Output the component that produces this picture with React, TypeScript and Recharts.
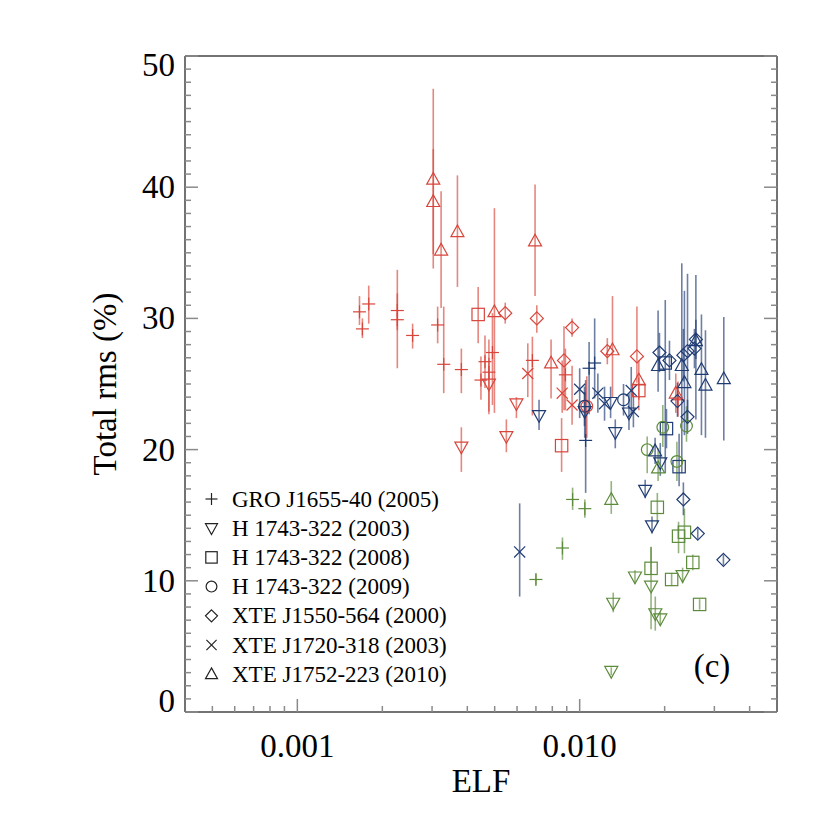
import { ScatterChart, Scatter, XAxis, YAxis, ErrorBar } from "recharts";

type State = "hard" | "inter" | "soft";
// [ELF, total rms %, error below, error above, state]
type Pt = [number, number, number, number, State];

const groJ1655: Pt[] = [
  [0.00166, 30.5, 1.0, 1.2, "hard"],
  [0.0017, 29.2, 0.7, 0.8, "hard"],
  [0.00179, 31.1, 1.5, 1.4, "hard"],
  [0.00226, 30.6, 4.4, 3.1, "hard"],
  [0.00226, 29.9, 0.8, 2.0, "hard"],
  [0.00256, 28.7, 1.0, 0.9, "hard"],
  [0.00314, 29.5, 1.4, 1.4, "hard"],
  [0.0033, 26.5, 2.2, 4.4, "hard"],
  [0.00381, 26.1, 1.8, 1.6, "hard"],
  [0.00447, 25.3, 1.5, 1.8, "hard"],
  [0.00462, 26.7, 2.0, 2.0, "hard"],
  [0.00477, 25.9, 3.0, 2.5, "hard"],
  [0.00491, 27.4, 4.0, 3.0, "hard"],
  [0.0068, 26.8, 4.2, 1.8, "hard"],
  [0.0089, 25.7, 2.7, 2.0, "hard"],
  [0.0223, 23.8, 1.3, 1.4, "hard"],
  [0.0105, 20.7, 4.0, 4.6, "inter"],
  [0.0113, 26.6, 2.7, 3.4, "inter"],
  [0.0108, 26.2, 3.5, 2.0, "inter"],
  [0.00944, 16.2, 0.8, 0.9, "soft"],
  [0.01043, 15.5, 0.7, 0.7, "soft"],
  [0.00869, 12.5, 0.9, 0.8, "soft"],
  [0.007, 10.1, 0.4, 0.4, "soft"],
];

const h1743y2003: Pt[] = [
  [0.00381, 20.2, 1.9, 1.5, "hard"],
  [0.0055, 21.0, 1.2, 1.3, "hard"],
  [0.00597, 23.5, 1.1, 0.5, "hard"],
  [0.00477, 25.0, 2.3, 2.0, "hard"],
  [0.00718, 22.6, 1.1, 1.2, "inter"],
  [0.01042, 22.9, 2.0, 1.5, "inter"],
  [0.01287, 23.6, 1.2, 1.2, "inter"],
  [0.01337, 21.3, 1.2, 1.0, "inter"],
  [0.01495, 22.8, 1.3, 1.5, "inter"],
  [0.0193, 19.0, 1.0, 1.5, "inter"],
  [0.01706, 16.9, 0.6, 0.8, "inter"],
  [0.01804, 14.2, 0.6, 0.7, "inter"],
  [0.0157, 10.3, 0.5, 0.5, "soft"],
  [0.0179, 9.6, 3.3, 3.0, "soft"],
  [0.02315, 10.4, 0.6, 0.6, "soft"],
  [0.01315, 8.3, 0.7, 0.8, "soft"],
  [0.01853, 7.5, 1.3, 1.3, "soft"],
  [0.0193, 7.1, 0.5, 0.5, "soft"],
  [0.01294, 3.1, 0.3, 0.3, "soft"],
];

const h1743y2008: Pt[] = [
  [0.00437, 30.3, 2.2, 2.1, "hard"],
  [0.00863, 20.3, 2.0, 2.1, "hard"],
  [0.0162, 24.5, 1.5, 1.0, "hard"],
  [0.0201, 26.6, 8.4, 4.8, "inter"],
  [0.0203, 21.6, 1.5, 1.5, "inter"],
  [0.0225, 18.7, 1.5, 2.5, "inter"],
  [0.01884, 15.6, 1.2, 1.1, "soft"],
  [0.0224, 13.4, 1.3, 1.1, "soft"],
  [0.0235, 13.7, 1.6, 1.8, "soft"],
  [0.0179, 10.95, 0.5, 1.6, "soft"],
  [0.02117, 10.1, 0.5, 0.5, "soft"],
  [0.02516, 11.4, 0.6, 0.6, "soft"],
  [0.0266, 8.2, 0.4, 0.4, "soft"],
];

const h1743y2009: Pt[] = [
  [0.0106, 23.3, 2.4, 2.3, "hard"],
  [0.0104, 23.3, 1.5, 1.5, "inter"],
  [0.0143, 23.8, 1.2, 1.2, "inter"],
  [0.0197, 21.7, 1.5, 1.7, "soft"],
  [0.0239, 21.8, 1.2, 1.5, "soft"],
  [0.01735, 20.0, 1.8, 1.0, "soft"],
  [0.0221, 19.1, 1.5, 1.5, "soft"],
];

const xteJ1550: Pt[] = [
  [0.00545, 30.4, 0.8, 0.8, "hard"],
  [0.00705, 30.0, 1.1, 1.0, "hard"],
  [0.0094, 29.3, 0.7, 0.7, "hard"],
  [0.0088, 26.8, 3.8, 2.6, "hard"],
  [0.01253, 27.5, 1.0, 1.0, "hard"],
  [0.01595, 27.1, 2.0, 3.8, "hard"],
  [0.01917, 27.4, 1.5, 1.5, "inter"],
  [0.0208, 26.8, 1.5, 1.5, "inter"],
  [0.0233, 27.2, 2.0, 2.0, "inter"],
  [0.0241, 27.5, 5.5, 5.9, "inter"],
  [0.0258, 28.4, 1.5, 1.5, "inter"],
  [0.0255, 27.7, 1.5, 1.5, "inter"],
  [0.0222, 23.7, 1.2, 1.4, "inter"],
  [0.0241, 22.5, 1.3, 1.3, "inter"],
  [0.0233, 16.2, 1.2, 1.3, "inter"],
  [0.0262, 13.6, 0.4, 0.4, "inter"],
  [0.0323, 11.6, 0.4, 0.4, "inter"],
];

const xteJ1720: Pt[] = [
  [0.00655, 25.8, 1.8, 2.3, "hard"],
  [0.00867, 24.3, 1.5, 2.5, "hard"],
  [0.0094, 23.4, 1.5, 3.0, "hard"],
  [0.01, 24.6, 2.2, 1.6, "inter"],
  [0.0116, 24.3, 1.5, 1.5, "inter"],
  [0.01225, 23.5, 1.3, 1.3, "inter"],
  [0.01523, 24.5, 1.8, 1.8, "inter"],
  [0.0155, 22.9, 1.2, 1.4, "inter"],
  [0.00613, 12.2, 3.4, 3.7, "inter"],
];

const xteJ1752: Pt[] = [
  [0.00303, 40.6, 6.8, 6.9, "hard"],
  [0.00303, 38.9, 4.0, 4.0, "hard"],
  [0.00323, 35.2, 4.4, 4.5, "hard"],
  [0.00369, 36.6, 4.2, 4.3, "hard"],
  [0.00499, 30.5, 7.7, 7.9, "hard"],
  [0.00695, 35.9, 4.2, 4.3, "hard"],
  [0.00792, 26.6, 2.7, 1.8, "hard"],
  [0.01307, 27.6, 3.6, 4.1, "hard"],
  [0.0162, 25.3, 1.5, 1.5, "hard"],
  [0.0219, 24.3, 1.5, 1.5, "hard"],
  [0.01896, 26.4, 2.0, 4.2, "inter"],
  [0.023, 26.4, 8.2, 7.8, "inter"],
  [0.0258, 28.3, 6.0, 5.0, "inter"],
  [0.027, 26.1, 5.0, 4.2, "inter"],
  [0.0279, 24.9, 4.0, 4.2, "inter"],
  [0.0324, 25.4, 4.7, 4.7, "inter"],
  [0.0235, 25.1, 4.0, 7.0, "inter"],
  [0.0185, 19.9, 1.0, 1.0, "inter"],
  [0.01294, 16.2, 1.1, 1.4, "soft"],
  [0.01896, 18.6, 1.0, 1.5, "soft"],
];

type Kind = "plus" | "tdown" | "square" | "circle" | "diamond" | "cross" | "tup";

const sources: { name: string; kind: Kind; points: Pt[] }[] = [
  { name: "GRO J1655-40 (2005)", kind: "plus", points: groJ1655 },
  { name: "H 1743-322 (2003)", kind: "tdown", points: h1743y2003 },
  { name: "H 1743-322 (2008)", kind: "square", points: h1743y2008 },
  { name: "H 1743-322 (2009)", kind: "circle", points: h1743y2009 },
  { name: "XTE J1550-564 (2000)", kind: "diamond", points: xteJ1550 },
  { name: "XTE J1720-318 (2003)", kind: "cross", points: xteJ1720 },
  { name: "XTE J1752-223 (2010)", kind: "tup", points: xteJ1752 },
];

const states: State[] = ["hard", "inter", "soft"];
const stateColor: Record<State, string> = {
  hard: "#d8453b",
  inter: "#1f3b73",
  soft: "#5c8b3a",
};

const xTicks = [
  0.0005, 0.0006, 0.0007, 0.0008, 0.0009, 0.001, 0.002, 0.003, 0.004, 0.005,
  0.006, 0.007, 0.008, 0.009, 0.01, 0.02, 0.03, 0.04,
];
const xTickLabels: Record<string, string> = { "0.001": "0.001", "0.01": "0.010" };
const yTicks = Array.from({ length: 51 }, (_, i) => i);

const FONT = "'Liberation Serif', 'Times New Roman', serif";
const TICK = "#8a8a8a";
const AXIS = "#444";

function Marker({ kind, cx, cy, color, h = 6.5 }: { kind: Kind; cx: number; cy: number; color: string; h?: number }) {
  const common = { fill: "none", stroke: color, strokeWidth: 1.2 };
  switch (kind) {
    case "plus":
      return (
        <g {...common}>
          <line x1={cx - h} x2={cx + h} y1={cy} y2={cy} />
          <line x1={cx} x2={cx} y1={cy - h} y2={cy + h} />
        </g>
      );
    case "cross":
      return (
        <g {...common}>
          <line x1={cx - h * 0.85} x2={cx + h * 0.85} y1={cy - h * 0.85} y2={cy + h * 0.85} />
          <line x1={cx - h * 0.85} x2={cx + h * 0.85} y1={cy + h * 0.85} y2={cy - h * 0.85} />
        </g>
      );
    case "square":
      return <rect x={cx - h * 0.95} y={cy - h * 0.95} width={h * 1.9} height={h * 1.9} {...common} />;
    case "circle":
      return <circle cx={cx} cy={cy} r={h * 0.9} {...common} />;
    case "diamond":
      return <polygon points={`${cx},${cy - h} ${cx + h},${cy} ${cx},${cy + h} ${cx - h},${cy}`} {...common} />;
    case "tup":
      return <polygon points={`${cx},${cy - h * 1.05} ${cx + h},${cy + h * 0.75} ${cx - h},${cy + h * 0.75}`} {...common} />;
    case "tdown":
      return <polygon points={`${cx},${cy + h * 1.05} ${cx + h},${cy - h * 0.75} ${cx - h},${cy - h * 0.75}`} {...common} />;
  }
  return null;
}

const isMajorX = (v: number) => Math.abs(Math.log10(v) - Math.round(Math.log10(v))) < 1e-6;

function BottomTick(props: any) {
  const { x, y, payload } = props;
  const major = isMajorX(payload.value);
  const label = xTickLabels[String(payload.value)];
  return (
    <g>
      <line x1={x} x2={x} y1={y} y2={y - (major ? 13 : 6)} stroke={TICK} strokeWidth={1.5} />
      {major && label && (
        <text x={x} y={y + 45} textAnchor="middle" fontSize={33} fontFamily={FONT} fill="#000">
          {label}
        </text>
      )}
    </g>
  );
}

function TopTick(props: any) {
  const { x, y, payload } = props;
  const major = isMajorX(payload.value);
  return <line x1={x} x2={x} y1={y} y2={y + (major ? 13 : 6)} stroke={TICK} strokeWidth={1.5} />;
}

function LeftTick(props: any) {
  const { x, y, payload } = props;
  const v = payload.value as number;
  const major = v % 10 === 0;
  const dy = v === 50 ? 9 : v === 0 ? -11 : 0;
  return (
    <g>
      <line x1={x} x2={x + (major ? 13 : 6)} y1={y} y2={y} stroke={TICK} strokeWidth={1.5} />
      {major && (
        <text x={x - 10} y={y + dy} textAnchor="end" dominantBaseline="central" fontSize={33} fontFamily={FONT} fill="#000">
          {v}
        </text>
      )}
    </g>
  );
}

function RightTick(props: any) {
  const { x, y, payload } = props;
  const major = (payload.value as number) % 10 === 0;
  return <line x1={x} x2={x - (major ? 13 : 6)} y1={y} y2={y} stroke={TICK} strokeWidth={1.5} />;
}

export default function App() {
  const W = 822;
  const H = 822;
  return (
    <div style={{ position: "relative", width: W, height: H }}>
      <ScatterChart width={W} height={H} margin={{ top: 38, right: 43, bottom: 58, left: 117 }}>
        <XAxis
          xAxisId="b"
          dataKey="x"
          type="number"
          scale="log"
          domain={[0.0004, 0.05]}
          allowDataOverflow
          ticks={xTicks}
          interval={0}
          tick={BottomTick}
          tickLine={false}
          tickSize={0}
          tickMargin={0}
          height={60}
          axisLine={{ stroke: AXIS, strokeWidth: 1.5 }}
        />
        <XAxis
          xAxisId="t"
          orientation="top"
          type="number"
          scale="log"
          domain={[0.0004, 0.05]}
          allowDataOverflow
          ticks={xTicks}
          interval={0}
          tick={TopTick}
          tickLine={false}
          tickSize={0}
          tickMargin={0}
          height={10}
          axisLine={{ stroke: AXIS, strokeWidth: 1.5 }}
        />
        <YAxis
          yAxisId="l"
          dataKey="y"
          type="number"
          domain={[0, 50]}
          allowDataOverflow
          ticks={yTicks}
          interval={0}
          tick={LeftTick}
          tickLine={false}
          tickSize={0}
          tickMargin={0}
          width={60}
          axisLine={{ stroke: AXIS, strokeWidth: 1.5 }}
        />
        <YAxis
          yAxisId="r"
          orientation="right"
          type="number"
          domain={[0, 50]}
          allowDataOverflow
          ticks={yTicks}
          interval={0}
          tick={RightTick}
          tickLine={false}
          tickSize={0}
          tickMargin={0}
          width={10}
          axisLine={{ stroke: AXIS, strokeWidth: 1.5 }}
        />
        {sources.flatMap((src) =>
          states.map((st) => {
            const data = src.points
              .filter((p) => p[4] === st)
              .map((p) => ({ x: p[0], y: p[1], err: [p[2], p[3]] }));
            if (data.length === 0) return null;
            const color = stateColor[st];
            return (
              <Scatter
                key={src.name + st}
                xAxisId="b"
                yAxisId="l"
                data={data}
                isAnimationActive={false}
                shape={(p: any) => <Marker kind={src.kind} cx={p.cx} cy={p.cy} color={color} />}
              >
                <ErrorBar
                  dataKey="err"
                  direction="y"
                  width={0}
                  stroke={color}
                  strokeWidth={1.6}
                  strokeOpacity={0.65}
                  isAnimationActive={false}
                />
              </Scatter>
            );
          })
        )}
      </ScatterChart>
      <svg width={W} height={H} style={{ position: "absolute", left: 0, top: 0, pointerEvents: "none" }}>
        <text x={473} y={784} textAnchor="middle" fontSize={33} fontFamily={FONT} fill="#000">
          ELF
        </text>
        <text
          x={97}
          y={376}
          transform="rotate(-90 97 376)"
          textAnchor="middle"
          dominantBaseline="central"
          fontSize={33}
          fontFamily={FONT}
          fill="#000"
        >
          Total rms (%)
        </text>
        <text x={704} y={658} textAnchor="middle" dominantBaseline="central" fontSize={33} fontFamily={FONT} fill="#000">
          (c)
        </text>
        {sources.map((src, i) => {
          const cy = 491 + i * 29.2;
          return (
            <g key={src.name}>
              <Marker kind={src.kind} cx={203.5} cy={cy} color="#222" h={6} />
              <text x={224} y={cy} dominantBaseline="central" fontSize={23} fontFamily={FONT} fill="#000">
                {src.name}
              </text>
            </g>
          );
        })}
      </svg>
    </div>
  );
}
